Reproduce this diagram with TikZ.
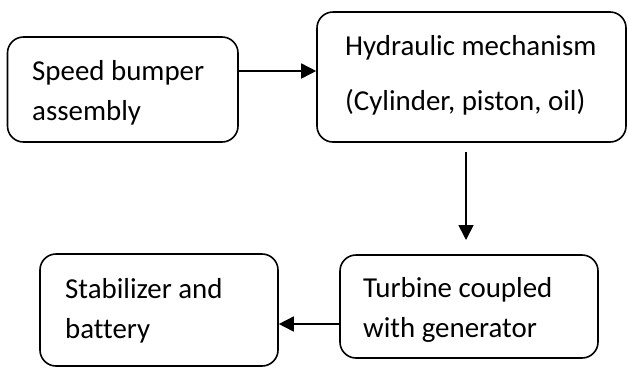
\documentclass[tikz,border=0pt]{standalone}
\usepackage{fontspec}
\setmainfont[Ligatures=NoCommon]{Carlito}
\usetikzlibrary{arrows.meta}
\begin{document}
\begin{tikzpicture}[x=1bp,y=-1bp,
  box/.style={draw=black,line width=1.6bp,rounded corners=16bp,inner sep=0pt,minimum width=#1},
  lbl/.style={anchor=base west,inner sep=0pt,font=\fontsize{29}{35}\selectfont},
  arr/.style={draw=black,line width=1.6bp,-{Triangle[length=15bp,width=15bp]}}]
\useasboundingbox (0,0) rectangle (629,368);
\node[box=230.5bp,minimum height=105bp] (b1) at (122.75,89.5) {};
\node[box=309bp,minimum height=130bp] (b2) at (471.5,77) {};
\node[box=238bp,minimum height=112bp] (b3) at (159,310) {};
\node[box=258bp,minimum height=103bp] (b4) at (469,306.5) {};
\node[lbl] (t1a) at (32,80) {Speed bumper};
\node[lbl] (t1b) at (32,120) {assembly};
\node[lbl] (t2a) at (345,55) {Hydraulic mechanism};
\node[lbl] (t2b) at (345,110) {(Cylinder, piston, oil)};
\node[lbl] (t3a) at (65,298) {Stabilizer and};
\node[lbl] (t3b) at (65,338) {battery};
\node[lbl] (t4a) at (363,297) {Turbine coupled};
\node[lbl] (t4b) at (363,337) {with generator};
\coordinate (y1) at (0,71);
\coordinate (y2) at (0,324);
\coordinate (d1) at (466,152);
\coordinate (d2) at (466,240);
\draw[arr] (b1.east |- y1) -- (b2.west |- y1);
\draw[arr] (d1) -- (d2);
\draw[arr] (b4.west |- y2) -- (b3.east |- y2);
\end{tikzpicture}
\end{document}
